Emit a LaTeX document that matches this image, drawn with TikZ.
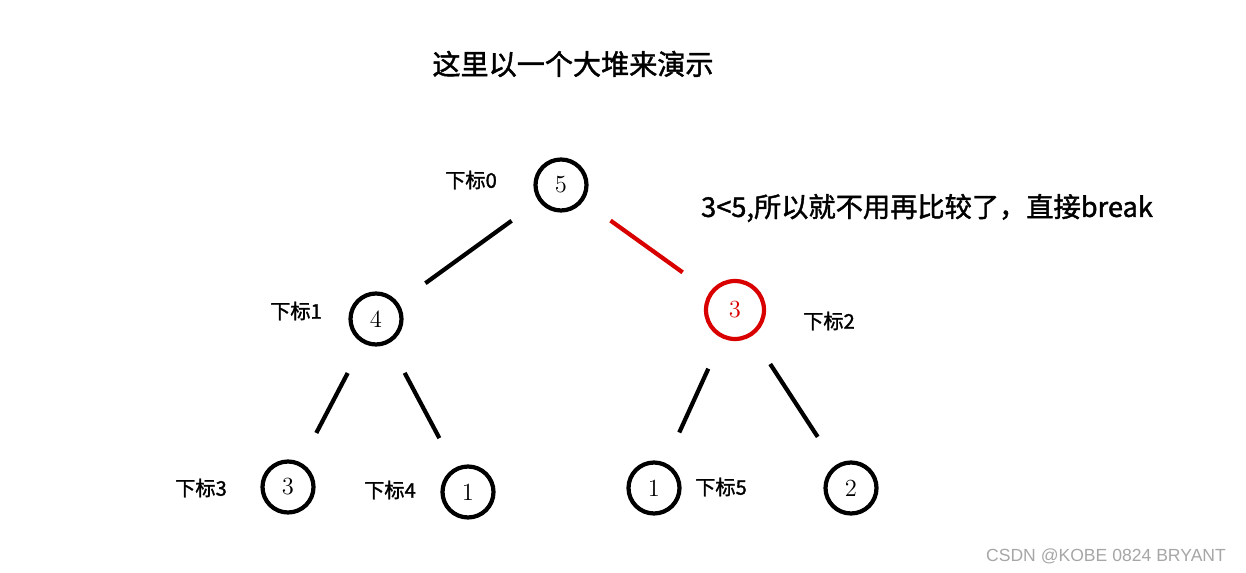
\documentclass[tikz,border=0pt]{standalone}
\usepackage{fontspec}
\newfontfamily\cjk{Noto Sans CJK SC}[FakeBold=1.5,AutoFakeBold=1.5]
\newfontfamily\wm{Liberation Sans}
\begin{document}
\begin{tikzpicture}[x=0.02cm,y=-0.02cm,
  circ/.style={circle,draw,line width=2.4pt,minimum size=1.02cm,inner sep=0pt,font=\fontsize{14}{14}\selectfont},
  lbl/.style={font=\cjk\bfseries\fontsize{11.5}{11.5}\selectfont},
  edge/.style={line width=2.4pt,shorten <=19pt,shorten >=19pt}]
\useasboundingbox (0,0) rectangle (1246,573);
\node[font=\cjk\bfseries\fontsize{16}{16}\selectfont] (title) at (573,64) {这里以一个大堆来演示};
\node[circ] (n0) at (561,185) {5};
\node[circ] (n1) at (376,319) {4};
\node[circ,red!85!black,minimum size=1.16cm] (n2) at (735,310) {3};
\node[circ] (n3) at (288,487) {3};
\node[circ] (n4) at (468,492) {1};
\node[circ] (n5) at (654,488) {1};
\node[circ] (n6) at (851,488) {2};
\node[lbl] (l0) at (471,180) {下标0};
\node[lbl] (l1) at (296,311) {下标1};
\node[lbl] (l2) at (829,321) {下标2};
\node[lbl] (l3) at (201,488) {下标3};
\node[lbl] (l4) at (390,490) {下标4};
\node[lbl] (l5) at (721,487) {下标5};
\node[font=\cjk\bfseries\fontsize{15.5}{15.5}\selectfont] (note) at (927,208) {3<5,所以就不用再比较了，直接break};
\draw[edge] (n0) -- (n1);
\draw[edge,red!85!black] (n0) -- (n2);
\draw[edge] (n1) -- (n3);
\draw[edge] (n1) -- (n4);
\draw[edge] (n2) -- (n5);
\draw[edge] (n2) -- (n6);
\node[font=\wm\fontsize{10}{10}\selectfont,gray!70] (wm) at (1106,556) {CSDN @KOBE 0824 BRYANT};
\end{tikzpicture}
\end{document}
